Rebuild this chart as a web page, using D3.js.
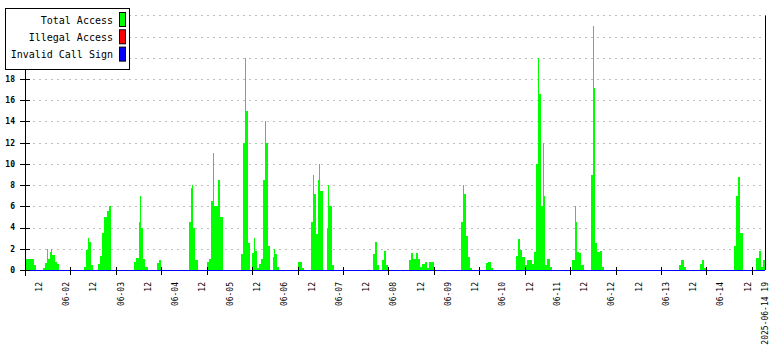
<!DOCTYPE html>
<html>
<head>
<meta charset="utf-8">
<script src="https://cdn.jsdelivr.net/npm/d3@7"></script>
<style>
  body { margin: 0; background: #fff; }
  text { font-family: "DejaVu Sans Mono", "Liberation Mono", monospace; }
</style>
</head>
<body>
<div id="vis"></div>
<script>
// time range of the graph
var rangeStart = "2025-06-01 06:00";
var rangeEnd = "2025-06-14 19:48";

// hourly readings of Total Access, as [first hour, values...] runs (zero elsewhere)
var totalBursts = [
    ["2025-06-01 06:00", [1, 1, 1, 1, 0.5]],
    ["2025-06-01 14:00", [0.2, 0.7, 1.0, 1.7, 1.4, 0.8, 0.6]],
    ["2025-06-02 08:00", [0.3, 1.9, 2.6, 0.5]],
    ["2025-06-02 14:00", [0.6, 1.3, 3.5, 5, 5.6, 6]],
    ["2025-06-03 06:00", [0.8, 1.1, 4.5, 4, 1.0, 0.3]],
    ["2025-06-03 16:00", [0.7, 0.9]],
    ["2025-06-04 06:00", [4.5, 7.7, 4, 0.9]],
    ["2025-06-04 14:00", [0.8, 1.0, 6.5, 6, 6, 8.5, 5]],
    ["2025-06-05 05:00", [1.5, 12, 15, 2.5]],
    ["2025-06-05 10:00", [1.6, 1.8, 0.2, 0.6, 1.0, 8.5, 12, 2.3, 0, 1.2, 1.5, 0.3]],
    ["2025-06-06 06:00", [0.8, 0.8, 0.2]],
    ["2025-06-06 12:00", [4.5, 7.2, 3.4, 8.5, 7.4]],
    ["2025-06-06 19:00", [4, 6, 0.5]],
    ["2025-06-07 15:00", [1.5, 2.6, 0.5]],
    ["2025-06-07 19:00", [0.9, 1.8, 0.5]],
    ["2025-06-08 07:00", [0.9, 1.6, 1.0, 1.6, 1.0, 0.3, 0.6, 0.8, 0.2, 0.8, 0.8]],
    ["2025-06-09 06:00", [4.5, 7.2, 3.2, 1.2, 0.2]],
    ["2025-06-09 17:00", [0.7, 0.8, 0.2]],
    ["2025-06-10 06:00", [1.3, 2.9, 1.9, 1.2, 0.5, 0.9, 0.9, 0.6, 1.7, 10, 16.6, 6, 7, 0.5, 1.0, 0.3]],
    ["2025-06-11 07:00", [0.9, 4.5, 1.7, 1.6, 0.5]],
    ["2025-06-11 15:00", [9, 17.2, 2.5, 1.7, 1.8, 0.3]],
    ["2025-06-13 06:00", [0.5, 0.9, 0.3]],
    ["2025-06-13 15:00", [0.6, 0.9, 0.2]],
    ["2025-06-14 06:00", [2.3, 7, 8.8, 3.5]],
    ["2025-06-14 16:00", [1.1, 1.8, 0.3, 0.9]]
];

// short maxima inside the hour (thin spikes)
var totalPeaks = [
    ["2025-06-01 16:06", 2], ["2025-06-01 17:48", 2], ["2025-06-02 09:54", 3],
    ["2025-06-03 08:54", 7], ["2025-06-04 07:54", 8], ["2025-06-04 16:54", 11],
    ["2025-06-05 07:06", 20], ["2025-06-05 10:54", 3], ["2025-06-05 15:54", 14],
    ["2025-06-05 19:48", 2], ["2025-06-06 13:06", 9], ["2025-06-06 15:36", 10],
    ["2025-06-06 19:48", 8], ["2025-06-09 07:00", 8], ["2025-06-10 16:06", 20],
    ["2025-06-10 18:06", 12], ["2025-06-11 08:24", 6], ["2025-06-11 16:06", 23]
];

// the other two series had no readings
var illegalBursts = [];
var invalidBursts = [];

var yTicks = [0, 2, 4, 6, 8, 10, 12, 14, 16, 18, 20, 22, 24];
var yLabels = [0, 2, 4, 6, 8, 10, 12, 14, 16, 18]; // the rest sit under the legend
var yMax = 24;
var tickHours = 20;   // spacing of the small axis ticks
var labelHours = 12;  // spacing of the rotated labels

var legendItems = [
    { name: "Total Access", color: "#00ff00" },
    { name: "Illegal Access", color: "#ff0000" },
    { name: "Invalid Call Sign", color: "#0000ff" }
];

var W = 780, H = 350;
var plot = { left: 25, right: 765, top: 15.4, bottom: 270 };

var parse = d3.timeParse("%Y-%m-%d %H:%M");
var t0 = parse(rangeStart);
var t1 = parse(rangeEnd);

var x = d3.scaleTime().domain([t0, t1]).range([plot.left, plot.right]);
var y = d3.scaleLinear().domain([0, yMax]).range([plot.bottom, plot.top]);

function hourlySeries(bursts)
{
    var hours = d3.timeHour.range(t0, t1);
    var byTime = new Map();
    hours.forEach(function(h) { byTime.set(+h, 0); });
    bursts.forEach(function(b) {
        var first = parse(b[0]);
        b[1].forEach(function(v, i) {
            byTime.set(+d3.timeHour.offset(first, i), v);
        });
    });
    return hours.map(function(h) { return { t: h, v: byTime.get(+h) }; });
}

var total = hourlySeries(totalBursts);
var illegal = hourlySeries(illegalBursts);
var invalid = hourlySeries(invalidBursts);

var svg = d3.select("#vis").append("svg")
    .attr("width", W)
    .attr("height", H);

svg.append("rect").attr("width", W).attr("height", H).attr("fill", "#fff");

// grid
svg.append("g")
    .attr("shape-rendering", "crispEdges")
    .selectAll("line")
    .data(yTicks.filter(function(d) { return d > 0; }))
    .enter().append("line")
        .attr("x1", plot.left + 2)
        .attr("x2", plot.right - 2)
        .attr("y1", function(d) { return Math.round(y(d)) + 0.5; })
        .attr("y2", function(d) { return Math.round(y(d)) + 0.5; })
        .attr("stroke", "#bdbdbd")
        .attr("stroke-dasharray", "2,4");

// total access, hourly bins
svg.append("g")
    .attr("shape-rendering", "crispEdges")
    .selectAll("rect")
    .data(total.filter(function(d) { return d.v > 0; }))
    .enter().append("rect")
        .attr("x", function(d) { return x(d.t); })
        .attr("width", function(d) { return Math.min(x(d3.timeHour.offset(d.t, 1)), plot.right) - x(d.t); })
        .attr("y", function(d) { return y(d.v); })
        .attr("height", function(d) { return plot.bottom - y(d.v); })
        .attr("fill", legendItems[0].color);

svg.append("g")
    .attr("shape-rendering", "crispEdges")
    .selectAll("rect")
    .data(totalPeaks)
    .enter().append("rect")
        .attr("x", function(d) { return Math.floor(x(parse(d[0]))); })
        .attr("width", 1)
        .attr("y", function(d) { return y(d[1]); })
        .attr("height", function(d) { return plot.bottom - y(d[1]); })
        .attr("fill", legendItems[0].color);

// illegal / invalid as lines
var line = d3.line()
    .curve(d3.curveStepAfter)
    .x(function(d) { return x(d.t); })
    .y(function(d) { return Math.round(y(d.v)) + 0.5; });

function withEnd(series)
{
    var last = series[series.length - 1];
    return series.concat([{ t: t1, v: last.v }]);
}

svg.append("path")
    .datum(withEnd(illegal))
    .attr("d", line)
    .attr("fill", "none")
    .attr("shape-rendering", "crispEdges")
    .attr("stroke", legendItems[1].color)
    .attr("stroke-width", 1);

svg.append("path")
    .datum(withEnd(invalid))
    .attr("d", line)
    .attr("fill", "none")
    .attr("shape-rendering", "crispEdges")
    .attr("stroke", legendItems[2].color)
    .attr("stroke-width", 1);

// frame lines
svg.append("line")
    .attr("x1", plot.left + 0.5).attr("x2", plot.left + 0.5)
    .attr("y1", plot.top).attr("y2", plot.bottom + 6)
    .attr("stroke", "#000");
svg.append("line")
    .attr("x1", plot.right + 0.5).attr("x2", plot.right + 0.5)
    .attr("y1", plot.top).attr("y2", plot.bottom)
    .attr("stroke", "#000");

// y ticks and labels
var yAxis = svg.append("g");
yAxis.selectAll("line")
    .data(yTicks)
    .enter().append("line")
        .attr("x1", plot.left - 5)
        .attr("x2", plot.left + 5)
        .attr("y1", function(d) { return Math.round(y(d)) + 0.5; })
        .attr("y2", function(d) { return Math.round(y(d)) + 0.5; })
        .attr("stroke", "#000");
yAxis.selectAll("text")
    .data(yLabels)
    .enter().append("text")
        .attr("x", plot.left - 10)
        .attr("y", function(d) { return y(d); })
        .attr("dy", "0.35em")
        .attr("text-anchor", "end")
        .attr("font-size", 8)
        .attr("font-weight", "bold")
        .text(function(d) { return d; });

// x ticks
var xTickTimes = d3.range(0, 17).map(function(k) { return d3.timeHour.offset(t0, k * tickHours); });
svg.append("g")
    .selectAll("line")
    .data(xTickTimes)
    .enter().append("line")
        .attr("x1", function(d) { return Math.round(x(d)) + 0.5; })
        .attr("x2", function(d) { return Math.round(x(d)) + 0.5; })
        .attr("y1", plot.bottom - 3)
        .attr("y2", plot.bottom + 5)
        .attr("stroke", "#000");

// x labels
var labelTimes = d3.timeHour.every(labelHours).range(d3.timeHour.ceil(t0), t1);
var fmtDay = d3.timeFormat("%m-%d");
var fmtEnd = d3.timeFormat("%Y-%m-%d %H");
var xLabels = labelTimes.map(function(t) {
    return { t: t, text: t.getHours() === 12 ? "12" : fmtDay(t) };
});
xLabels.push({ t: t1, text: fmtEnd(t1) });

svg.append("g")
    .selectAll("text")
    .data(xLabels)
    .enter().append("text")
        .attr("transform", function(d) { return "translate(" + (x(d.t) + 0.5) + "," + (plot.bottom + 12) + ") rotate(-90)"; })
        .attr("dy", "0.35em")
        .attr("text-anchor", "end")
        .attr("font-size", 8)
        .text(function(d) { return d.text; });

// legend
var legend = svg.append("g");
legend.append("rect")
    .attr("x", 5.5).attr("y", 8.5)
    .attr("width", 124).attr("height", 61)
    .attr("fill", "#fff")
    .attr("stroke", "#000");
var rows = legend.selectAll("g.row")
    .data(legendItems)
    .enter().append("g")
        .attr("class", "row")
        .attr("transform", function(d, i) { return "translate(0," + (12.5 + i * 17.3) + ")"; });
rows.append("rect")
    .attr("x", 119.5).attr("y", 0)
    .attr("width", 6).attr("height", 14)
    .attr("fill", function(d) { return d.color; })
    .attr("stroke", "#000");
rows.append("text")
    .attr("x", 113)
    .attr("y", 11)
    .attr("text-anchor", "end")
    .attr("font-size", 10)
    .text(function(d) { return d.name; });
</script>
</body>
</html>
